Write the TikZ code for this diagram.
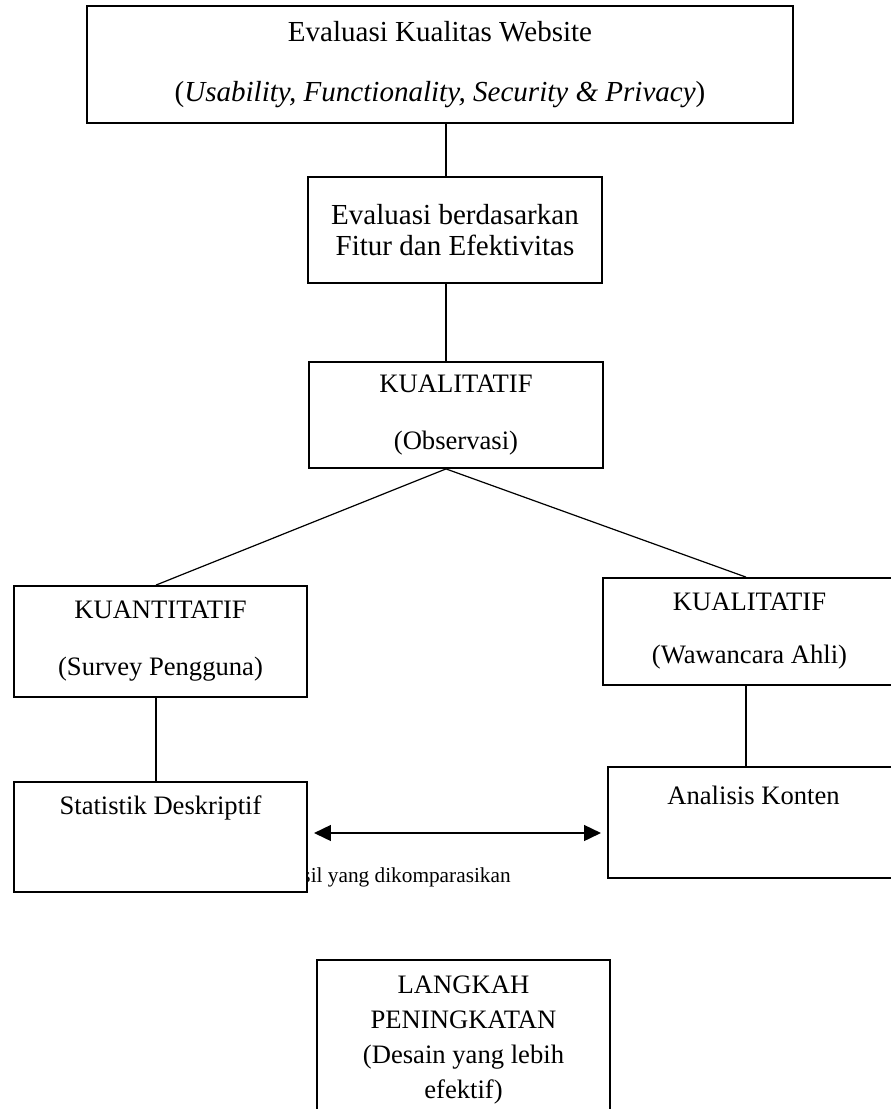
\documentclass[tikz,border=0pt]{standalone}
\usepackage{fontspec}
\setmainfont{Liberation Serif}
\usetikzlibrary{arrows.meta}

\begin{document}
\begin{tikzpicture}[
  x=0.4132pt, y=-0.4132pt,
  box/.style={rectangle, draw=black, line width=0.75pt, fill=white,
    inner sep=0pt, align=center},
  big/.style={font=\fontsize{12}{14.4}\selectfont},
  mid/.style={font=\fontsize{11}{13.2}\selectfont},
  lbl/.style={font=\fontsize{8.8}{10}\selectfont, inner sep=0pt},
  conn/.style={line width=0.5pt},
  cmp/.style={{Triangle[length=7pt,width=6.5pt]}-{Triangle[length=7pt,width=6.5pt]},
    line width=0.9pt, shorten <=2.5pt, shorten >=2.5pt},
]
\useasboundingbox (0,0) rectangle (891,1109);
\clip (0,0) rectangle (891,1109);

\coordinate (spine) at (446,0);
\coordinate (leftx) at (156,0);
\coordinate (rightx) at (746,0);
\coordinate (cmpy) at (0,833);

% label sits behind the left box
\node[lbl, anchor=west] (hasil) at (302,877) {sil yang dikomparasikan};

\node[box, big, minimum width=291.7pt, minimum height=48.3pt] (eval) at (440,64.5)
  {Evaluasi Kualitas Website\\[10.4pt] (\textit{Usability, Functionality, Security \& Privacy})};
\node[box, big, minimum width=121.5pt, minimum height=43.8pt] (fitur) at (455,230)
  {Evaluasi berdasarkan\\[-1.6pt] Fitur dan Efektivitas};
\node[box, mid, minimum width=121.5pt, minimum height=43.8pt] (obs) at (456,415)
  {KUALITATIF\\[10.4pt] (Observasi)};

\node[box, mid, minimum width=121.1pt, minimum height=45.9pt] (survey) at (160.5,641.5)
  {KUANTITATIF\\[10.4pt] (Survey Pengguna)};
\node[box, mid, minimum width=121.1pt, minimum height=44.2pt] (ahli) at (749.5,631.5)
  {KUALITATIF\\[8.7pt] (Wawancara Ahli)};

\node[box, minimum width=121.1pt, minimum height=45.5pt] (stat) at (160.5,837) {};
\node[mid, inner sep=0pt] (statT) at (160.5,808) {Statistik Deskriptif};
\node[box, minimum width=121.1pt, minimum height=45.9pt] (konten) at (754.5,822.5) {};
\node[mid, inner sep=0pt] (kontenT) at (753.5,795) {Analisis Konten};

\node[box, minimum width=121.1pt, minimum height=70.2pt] (langkah) at (463.5,1045) {};
\node[font=\fontsize{11}{14.5}\selectfont, inner sep=0pt, align=center] (langkahT) at (463.5,1040)
  {LANGKAH\\ PENINGKATAN\\ (Desain yang lebih\\ efektif)};

\draw[conn] (eval.south -| spine) -- (fitur.north -| spine);
\draw[conn] (fitur.south -| spine) -- (obs.north -| spine);
\draw[conn] (obs.south -| spine) -- (survey.north -| leftx);
\draw[conn] (obs.south -| spine) -- (ahli.north -| rightx);
\draw[conn] (survey.south -| leftx) -- (stat.north -| leftx);
\draw[conn] (ahli.south -| rightx) -- (konten.north -| rightx);
\draw[cmp] (stat.east |- cmpy) -- (konten.west |- cmpy);

\end{tikzpicture}
\end{document}
